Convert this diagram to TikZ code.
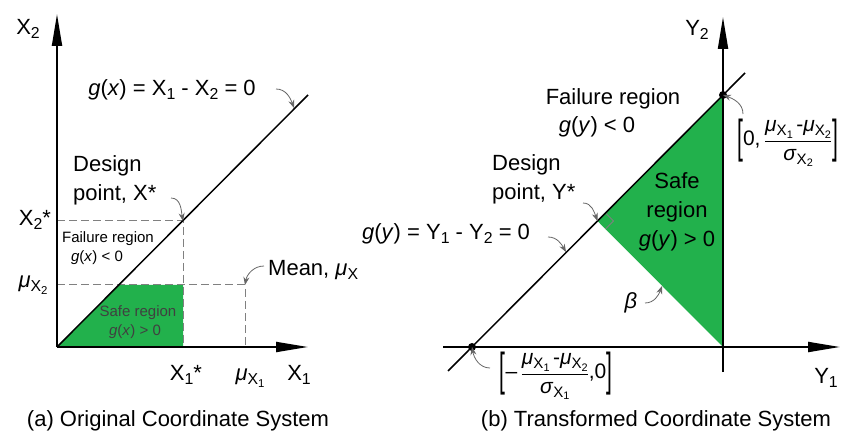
\documentclass[tikz,border=0pt]{standalone}
\usepackage{fontspec}
\setmainfont{Liberation Sans}
\usepackage{graphicx}
\usetikzlibrary{arrows.meta,calc}

\definecolor{safegreen}{RGB}{34,177,76}
\newcommand{\lowsub}[1]{\raisebox{-0.35ex}{\scalebox{0.72}{#1}}}
\newcommand{\meandiff}{\textit{μ}\lowsub{X\lowsub{1}}\,-\textit{μ}\lowsub{X\lowsub{2}}}
\newcommand{\tallbr}[1]{\vcenter{\hbox{\scalebox{1}[2.2]{#1}}}}

\begin{document}
\begin{tikzpicture}[x=1pt, y=1pt,
  every node/.style={font=\fontsize{22}{29}\selectfont, inner sep=0pt},
  smalltext/.style={font=\fontsize{15}{18}\selectfont},
  fractext/.style={font=\fontsize{21}{24}\selectfont},
  axis/.style={line width=2pt, -{Triangle[length=32pt,width=10pt]}},
  limitline/.style={line width=1.5pt},
  guide/.style={gray, line width=1pt, dash pattern=on 8pt off 4pt},
  pointer/.style={gray!80!black, line width=0.8pt, -{Stealth[length=8pt,width=6pt]}}]
  \useasboundingbox (0,0) rectangle (843,-438);

  % (a) original coordinate system
  \coordinate (o1) at (57,-347);
  \coordinate (xstar) at (183,-221);
  \coordinate (mean1) at (245,-285);
  \fill[safegreen] (o1) -- (119,-285) -- (183,-285) -- (183,-347) -- cycle;
  \draw[guide] (57,-221) -- (xstar) -- (183,-347);
  \draw[guide] (57,-285) -- (mean1) -- (245,-347);
  \draw[limitline] (o1) -- (308,-95);
  \draw[axis] (o1) -- (57,-14);
  \draw[axis] (o1) -- (308,-347);

  \node (x2) at (28,-29) {X\lowsub{2}};
  \node (x2star) at (35,-220) {X\lowsub{2}*};
  \node (mux2) at (33,-285) {\textit{μ}\lowsub{X\lowsub{2}}};
  \node (x1star) at (186,-375) {X\lowsub{1}*};
  \node (mux1) at (250,-378) {\textit{μ}\lowsub{X\lowsub{1}}};
  \node (x1) at (299,-375) {X\lowsub{1}};
  \node (gx) at (172,-90) {\textit{g}(\textit{x}) = X\lowsub{1} - X\lowsub{2} = 0};
  \node[anchor=west, align=left] (dpx) at (73,-180) {Design\\point, X*};
  \node[smalltext] (failx) at (108,-239) {Failure region};
  \node[smalltext] (failgx) at (97,-258) {\textit{g}(\textit{x}) < 0};
  \node[smalltext, text=black!75] (safex) at (138,-313) {Safe region};
  \node[smalltext, text=black!75] (safegx) at (135,-332) {\textit{g}(\textit{x}) > 0};
  \node[anchor=west] (meanx) at (268,-270) {Mean, \textit{μ}\lowsub{X}};
  \node (capa) at (178,-421) {(a) Original Coordinate System};

  \coordinate (gxend) at (276,-89);
  \coordinate (gxline) at (294,-108);
  \coordinate (dpxend) at (171,-198);
  \coordinate (meanend) at (264,-266);
  \draw[pointer] (gxend) to[out=0,in=110] (gxline);
  \draw[pointer] (dpxend) to[out=0,in=100] (xstar);
  \draw[pointer] (meanend) to[out=180,in=80] (mean1);

  % (b) transformed coordinate system
  \coordinate (o2) at (723,-347);
  \coordinate (ycross) at (472,-347);
  \coordinate (ytop) at (723,-95);
  \coordinate (ystar) at (597.5,-221);
  \fill[safegreen] (ytop) -- (ystar) -- (o2) -- cycle;
  \draw[gray, line width=0.8pt] ($(ystar)+(8,8)$) -- ($(ystar)+(16,0)$) -- ($(ystar)+(8,-8)$);
  \draw[limitline] (448,-371) -- (745,-73);
  \draw[axis] (443,-347) -- (840,-347);
  \draw[axis] (723,-372) -- (723,-17);
  \fill (ycross) circle (4);
  \fill (ytop) circle (4);

  \node (y2) at (697,-30) {Y\lowsub{2}};
  \node (y1) at (826,-378) {Y\lowsub{1}};
  \node (faily) at (613,-99) {Failure region};
  \node (failgy) at (597,-127) {\textit{g}(\textit{y}) < 0};
  \node[anchor=west, align=left] (dpy) at (492,-179) {Design\\point, Y*};
  \node (gy) at (446,-234) {\textit{g}(\textit{y}) = Y\lowsub{1} - Y\lowsub{2} = 0};
  \node[align=center] (safey) at (677,-212) {Safe\\region\\\textit{g}(\textit{y}) > 0};
  \node (beta) at (631,-303) {\textit{β}};
  \node[fractext, anchor=west] (topval) at (737,-143)
    {$\displaystyle\tallbr{[}\mbox{0,}\,\frac{\mbox{\meandiff}}{\mbox{\textit{σ}\lowsub{X\lowsub{2}}}}\tallbr{]}$};
  \node[fractext] (leftval) at (556,-376)
    {$\displaystyle\tallbr{[}\mbox{–}\,\frac{\mbox{\meandiff}}{\mbox{\textit{σ}\lowsub{X\lowsub{1}}}}\mbox{,0}\tallbr{]}$};
  \node (capb) at (656,-421) {(b) Transformed Coordinate System};

  \coordinate (dpyend) at (583,-203);
  \coordinate (gyend) at (548,-237);
  \coordinate (gyline) at (566,-252);
  \coordinate (betaend) at (645,-303);
  \coordinate (betaline) at (662,-286);
  \coordinate (topend) at (743,-114);
  \coordinate (leftend) at (490,-368);
  \draw[pointer] (dpyend) to[out=0,in=110] (ystar);
  \draw[pointer] (gyend) to[out=0,in=120] (gyline);
  \draw[pointer] (betaend) to[out=0,in=-110] (betaline);
  \draw[pointer] (topend) to[out=90,in=-20] (ytop);
  \draw[pointer] (leftend) to[out=180,in=-80] (ycross);
\end{tikzpicture}
\end{document}
